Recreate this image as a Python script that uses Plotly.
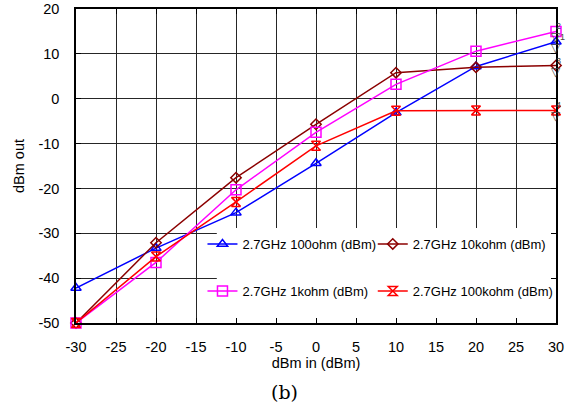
import plotly.graph_objects as go

x_in = [-30, -20, -10, 0, 10, 20, 30]
ohm100 = [-42.2, -33.3, -25.4, -14.4, -3.1, 7.2, 12.7]
kohm10 = [-50.0, -32.1, -17.6, -5.7, 5.8, 7.0, 7.4]
kohm1 = [-50.0, -36.5, -20.3, -7.5, 3.2, 10.6, 15.0]
kohm100 = [-50.0, -35.2, -23.0, -10.5, -2.7, -2.6, -2.6]

x_ticks = [-30, -25, -20, -15, -10, -5, 0, 5, 10, 15, 20, 25, 30]
y_ticks = [-50, -40, -30, -20, -10, 0, 10, 20]

series = [
    ("2.7GHz 100ohm (dBm)", ohm100, "#0000ff", "triangle-up-open", 9, "legend"),
    ("2.7GHz 10kohm (dBm)", kohm10, "#8b0000", "diamond-open", 8, "legend2"),
    ("2.7GHz 1kohm (dBm)", kohm1, "#ff00ff", "square-open", 10, "legend3"),
    ("2.7GHz 100kohm (dBm)", kohm100, "#ff0000", "hourglass-open", 9, "legend4"),
]

fig = go.Figure()
for name, ys, col, sym, sz, lg in series:
    fig.add_trace(go.Scatter(
        x=x_in, y=ys, name=name, mode="lines+markers",
        line=dict(color=col, width=1.5),
        marker=dict(symbol=sym, size=sz, color=col, line=dict(width=1.5, color=col)),
        legend=lg, cliponaxis=False,
    ))

# white box behind the legend (covers grid)
fig.add_shape(type="rect", xref="x", yref="y", x0=-12.4, x1=30, y0=-50, y1=-28.8,
              fillcolor="white", line=dict(width=0), layer="between")

# marker flags at the right edge
flags = [(ohm100[-1], "1", 4), (kohm1[-1], "2", 0), (kohm10[-1], "3", 0), (kohm100[-1], "4", 0)]
for yv, lab, dx in flags:
    fig.add_annotation(x=1.0, xref="paper", y=yv, yref="y", text="▽", showarrow=False,
                       xanchor="center", yanchor="top",
                       font=dict(size=12, color="#444444", family="DejaVu Sans"), yshift=3)
    fig.add_annotation(x=1.0, xref="paper", y=yv, yref="y", text=lab, showarrow=False,
                       xanchor="center", yanchor="bottom",
                       font=dict(size=9, color="#444444", family="Liberation Sans"),
                       xshift=2 + dx, yshift=-2)

fig.add_annotation(xref="paper", yref="paper", x=(285 - 76) / 482, y=-(392 - 323) / 314,
                   text="(b)", showarrow=False, xanchor="center", yanchor="middle",
                   font=dict(size=19, color="#000000", family="DejaVu Serif"))

axis_common = dict(
    showline=True, linecolor="black", linewidth=1.5, mirror="ticks",
    showgrid=True, gridcolor="#262626", gridwidth=1.4,
    ticks="inside", ticklen=5, tickcolor="black", tickwidth=1,
    zeroline=False, tickfont=dict(size=14.5, color="black"), automargin=False,
)

fig.update_xaxes(range=[-30, 30], tickvals=x_ticks, ticktext=[str(v) for v in x_ticks],
                 title=dict(text="dBm in (dBm)", font=dict(size=14.5, color="black"), standoff=2),
                 ticklabelstandoff=10, **axis_common)
fig.update_yaxes(range=[-50, 20], tickvals=y_ticks, ticktext=[str(v) for v in y_ticks],
                 title=dict(text="dBm out", font=dict(size=14.5, color="black"), standoff=10),
                 ticklabelstandoff=12, **axis_common)

leg_common = dict(orientation="h", bgcolor="rgba(0,0,0,0)", font=dict(size=13, color="black"),
                  xanchor="left", yanchor="middle", itemsizing="trace")
col1 = (203 - 76) / 482
col2 = (374 - 76) / 482
row1 = (323 - 244) / 314
row2 = (323 - 291) / 314
fig.update_layout(
    width=568, height=418,
    margin=dict(l=76, r=10, t=9, b=95),
    paper_bgcolor="white", plot_bgcolor="white",
    font=dict(family="Liberation Sans, Arial, sans-serif", color="black"),
    legend=dict(x=col1, y=row1, **leg_common),
    legend2=dict(x=col2, y=row1, **leg_common),
    legend3=dict(x=col1, y=row2, **leg_common),
    legend4=dict(x=col2, y=row2, **leg_common),
    showlegend=True,
)

fig.write_html("out.html", config={"displayModeBar": False},
               post_script="document.body.style.margin='0';")
